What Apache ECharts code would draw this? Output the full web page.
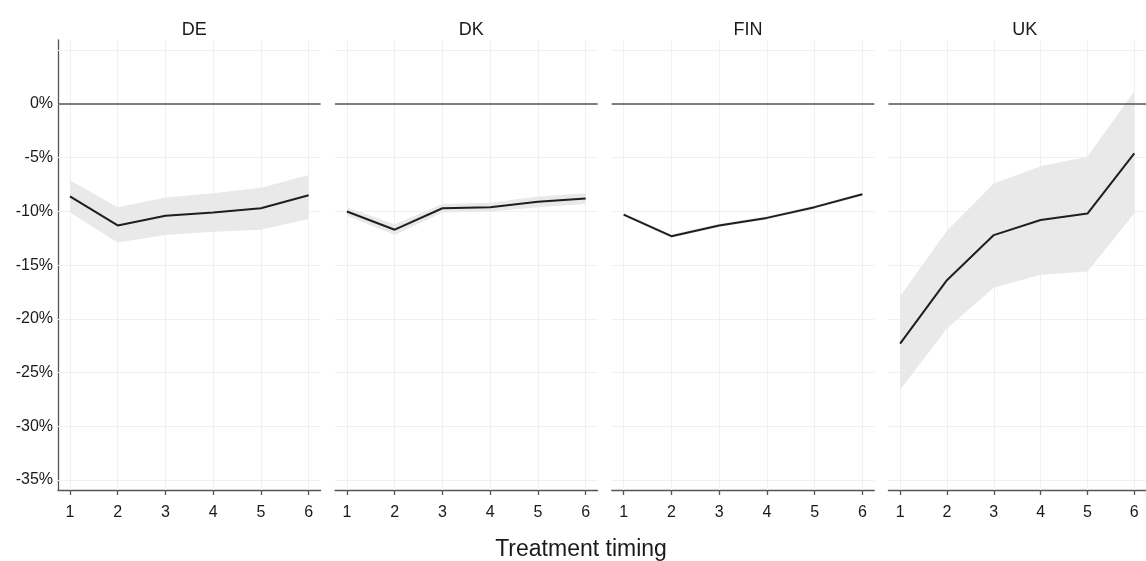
<!DOCTYPE html>
<html>
<head>
<meta charset="utf-8">
<script src="https://cdn.jsdelivr.net/npm/echarts@6/dist/echarts.min.js"></script>
<style>
html,body{margin:0;padding:0;background:#fff;}
#chart{width:1146px;height:561px;}
</style>
</head>
<body>
<div id="chart"></div>
<script>
// ---- data ----
const timing = [1, 2, 3, 4, 5, 6];
const panelNames = ['DE', 'DK', 'FIN', 'UK'];

const deEst  = [-8.6, -11.3, -10.4, -10.1, -9.7, -8.5];
const deLow  = [-10.1, -12.9, -12.2, -11.9, -11.7, -10.7];
const deHigh = [-7.1, -9.6, -8.7, -8.3, -7.8, -6.6];

const dkEst  = [-10.0, -11.7, -9.7, -9.6, -9.1, -8.8];
const dkLow  = [-10.4, -12.2, -10.1, -10.0, -9.6, -9.3];
const dkHigh = [-9.6, -11.2, -9.3, -9.2, -8.6, -8.3];

const finEst  = [-10.3, -12.3, -11.3, -10.6, -9.6, -8.4];
const finLow  = [-10.45, -12.45, -11.45, -10.75, -9.75, -8.55];
const finHigh = [-10.15, -12.15, -11.15, -10.45, -9.45, -8.25];

const ukEst  = [-22.3, -16.4, -12.2, -10.8, -10.2, -4.6];
const ukLow  = [-26.6, -20.9, -17.1, -15.9, -15.6, -10.2];
const ukHigh = [-17.9, -11.8, -7.4, -5.8, -4.9, 1.2];

const yLabelTicks = [-35, -30, -25, -20, -15, -10, -5, 0];
const yGridValues = [-35, -30, -25, -20, -15, -10, -5, 0, 5];
const xTickLabels = ['1', '2', '3', '4', '5', '6'];

const estimates = [deEst, dkEst, finEst, ukEst];
const lows = [deLow, dkLow, finLow, ukLow];
const highs = [deHigh, dkHigh, finHigh, ukHigh];

// ---- layout ----
const FONT = '"Liberation Sans", Arial, sans-serif';
const gridLefts = [58, 335, 611.7, 888.4];
const gridWidth = 262.6;
const gridTop = 40;
const gridHeight = 450;

const chart = echarts.init(document.getElementById('chart'), null, {renderer: 'canvas'});

const grids = [], xAxes = [], yAxes = [], series = [], titles = [];

panelNames.forEach((name, p) => {
  grids.push({left: gridLefts[p], top: gridTop, width: gridWidth, height: gridHeight, containLabel: false});
  titles.push({
    text: name,
    left: gridLefts[p] + gridWidth / 2,
    top: 16,
    textAlign: 'center',
    textStyle: {fontFamily: FONT, fontSize: 18, fontWeight: 'normal', color: '#1a1a1a'}
  });
  xAxes.push({
    type: 'value', gridIndex: p, min: 0.75, max: 6.25,
    axisLine: {show: true, onZero: false, lineStyle: {color: '#555', width: 1.3}},
    axisTick: {show: true, length: 5, lineStyle: {color: '#555', width: 1.3}, customValues: timing},
    axisLabel: {
      show: true, customValues: timing, margin: 15,
      fontFamily: FONT, fontSize: 16, color: '#1a1a1a',
      formatter: v => xTickLabels[timing.indexOf(v)] ?? ''
    },
    splitLine: {show: false}
  });
  yAxes.push({
    type: 'value', gridIndex: p, min: -35.93, max: 5.96,
    axisLine: {show: p === 0, onZero: false, lineStyle: {color: '#555', width: 1.3}},
    axisTick: {show: false},
    axisLabel: {
      show: p === 0, customValues: yLabelTicks, margin: 5,
      fontFamily: FONT, fontSize: 16, color: '#1a1a1a',
      formatter: v => v + '%'
    },
    splitLine: {show: false}
  });

  const lo = lows[p], hi = highs[p];
  // gridlines + confidence band
  series.push({
    type: 'custom',
    xAxisIndex: p, yAxisIndex: p,
    z: 2,
    silent: true,
    data: timing.map((x, i) => [x, lo[i], hi[i]]),
    renderItem: function (params, api) {
      if (params.dataIndex !== 0) return null;
      const pts = [];
      for (let i = 0; i < timing.length; i++) pts.push(api.coord([timing[i], hi[i]]));
      for (let i = timing.length - 1; i >= 0; i--) pts.push(api.coord([timing[i], lo[i]]));
      return {
        type: 'polygon',
        shape: {points: pts},
        style: {fill: '#e9e9e9', stroke: null}
      };
    },
    markLine: {
      silent: true, symbol: 'none', z: 1,
      label: {show: false},
      lineStyle: {color: '#f0f0f0', width: 1, type: 'solid'},
      data: yGridValues.map(v => ({yAxis: v})).concat(timing.map(v => ({xAxis: v})))
    }
  });
  // estimate line + zero line
  series.push({
    type: 'line',
    xAxisIndex: p, yAxisIndex: p,
    z: 4,
    data: timing.map((x, i) => [x, estimates[p][i]]),
    showSymbol: false,
    lineStyle: {color: '#1e1e1e', width: 2},
    silent: true,
    markLine: {
      silent: true, symbol: 'none', z: 3,
      label: {show: false},
      lineStyle: {color: '#555', width: 1.5, type: 'solid'},
      data: [{yAxis: 0}]
    }
  });
});

titles.push({
  text: 'Treatment timing',
  left: 576,
  top: 533,
  textAlign: 'center',
  textStyle: {fontFamily: FONT, fontSize: 23, fontWeight: 'normal', color: '#1a1a1a'}
});

chart.setOption({
  animation: false,
  backgroundColor: '#ffffff',
  title: titles,
  grid: grids,
  xAxis: xAxes,
  yAxis: yAxes,
  series: series
});
</script>
</body>
</html>
